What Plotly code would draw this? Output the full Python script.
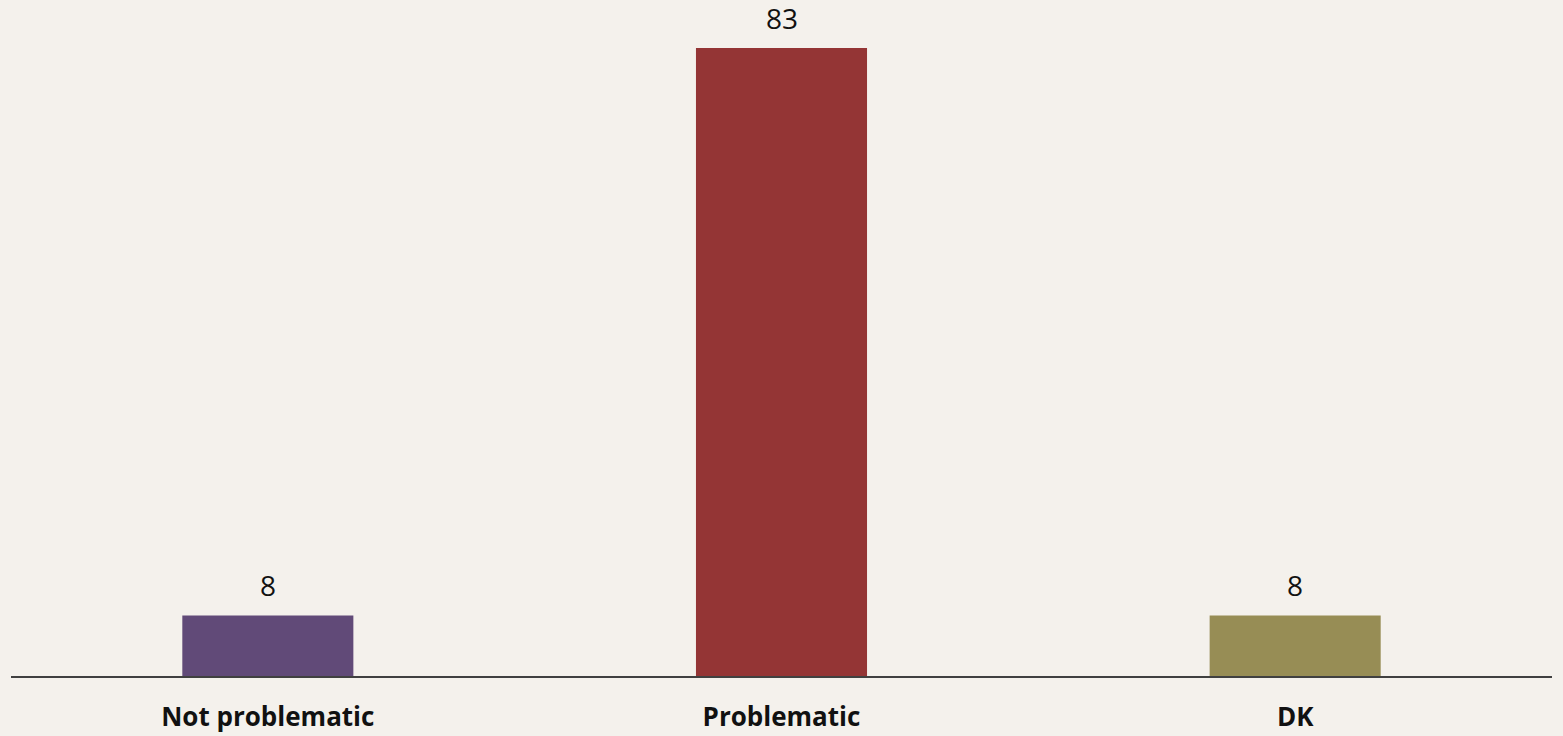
import plotly.graph_objects as go

# Survey answer shares (%)
categories = ["Not problematic", "Problematic", "DK"]
values = [8, 83, 8]
bar_colors = ["#614A78", "#943535", "#978D55"]

BG = "#F4F1EC"
FONT = "Open Sans"

fig = go.Figure()

fig.add_trace(
    go.Bar(
        x=categories,
        y=values,
        marker=dict(color=bar_colors, line=dict(width=0)),
        width=0.333,
        hoverinfo="skip",
    )
)

# value labels above each bar
for cat, val in zip(categories, values):
    fig.add_annotation(
        x=cat,
        y=val,
        text=str(val),
        showarrow=False,
        yanchor="bottom",
        yshift=10,
        borderpad=0,
        font=dict(family=FONT, size=28, color="#111111"),
    )

fig.update_layout(
    width=1563,
    height=736,
    paper_bgcolor=BG,
    plot_bgcolor=BG,
    margin=dict(l=11, r=11, t=0, b=60),
    showlegend=False,
    xaxis=dict(
        showline=True,
        linecolor="#404040",
        linewidth=2,
        ticks="",
        showgrid=False,
        ticklabelstandoff=17,
        tickfont=dict(family=FONT, size=26, color="#111111", weight="bold"),
    ),
    yaxis=dict(
        range=[0, 89.35],
        visible=False,
        showgrid=False,
        zeroline=False,
    ),
)

# drop the default page margin so the figure fills the window
fig.write_html(
    "out.html",
    config={"displayModeBar": False},
    post_script="document.body.style.margin='0';",
)
